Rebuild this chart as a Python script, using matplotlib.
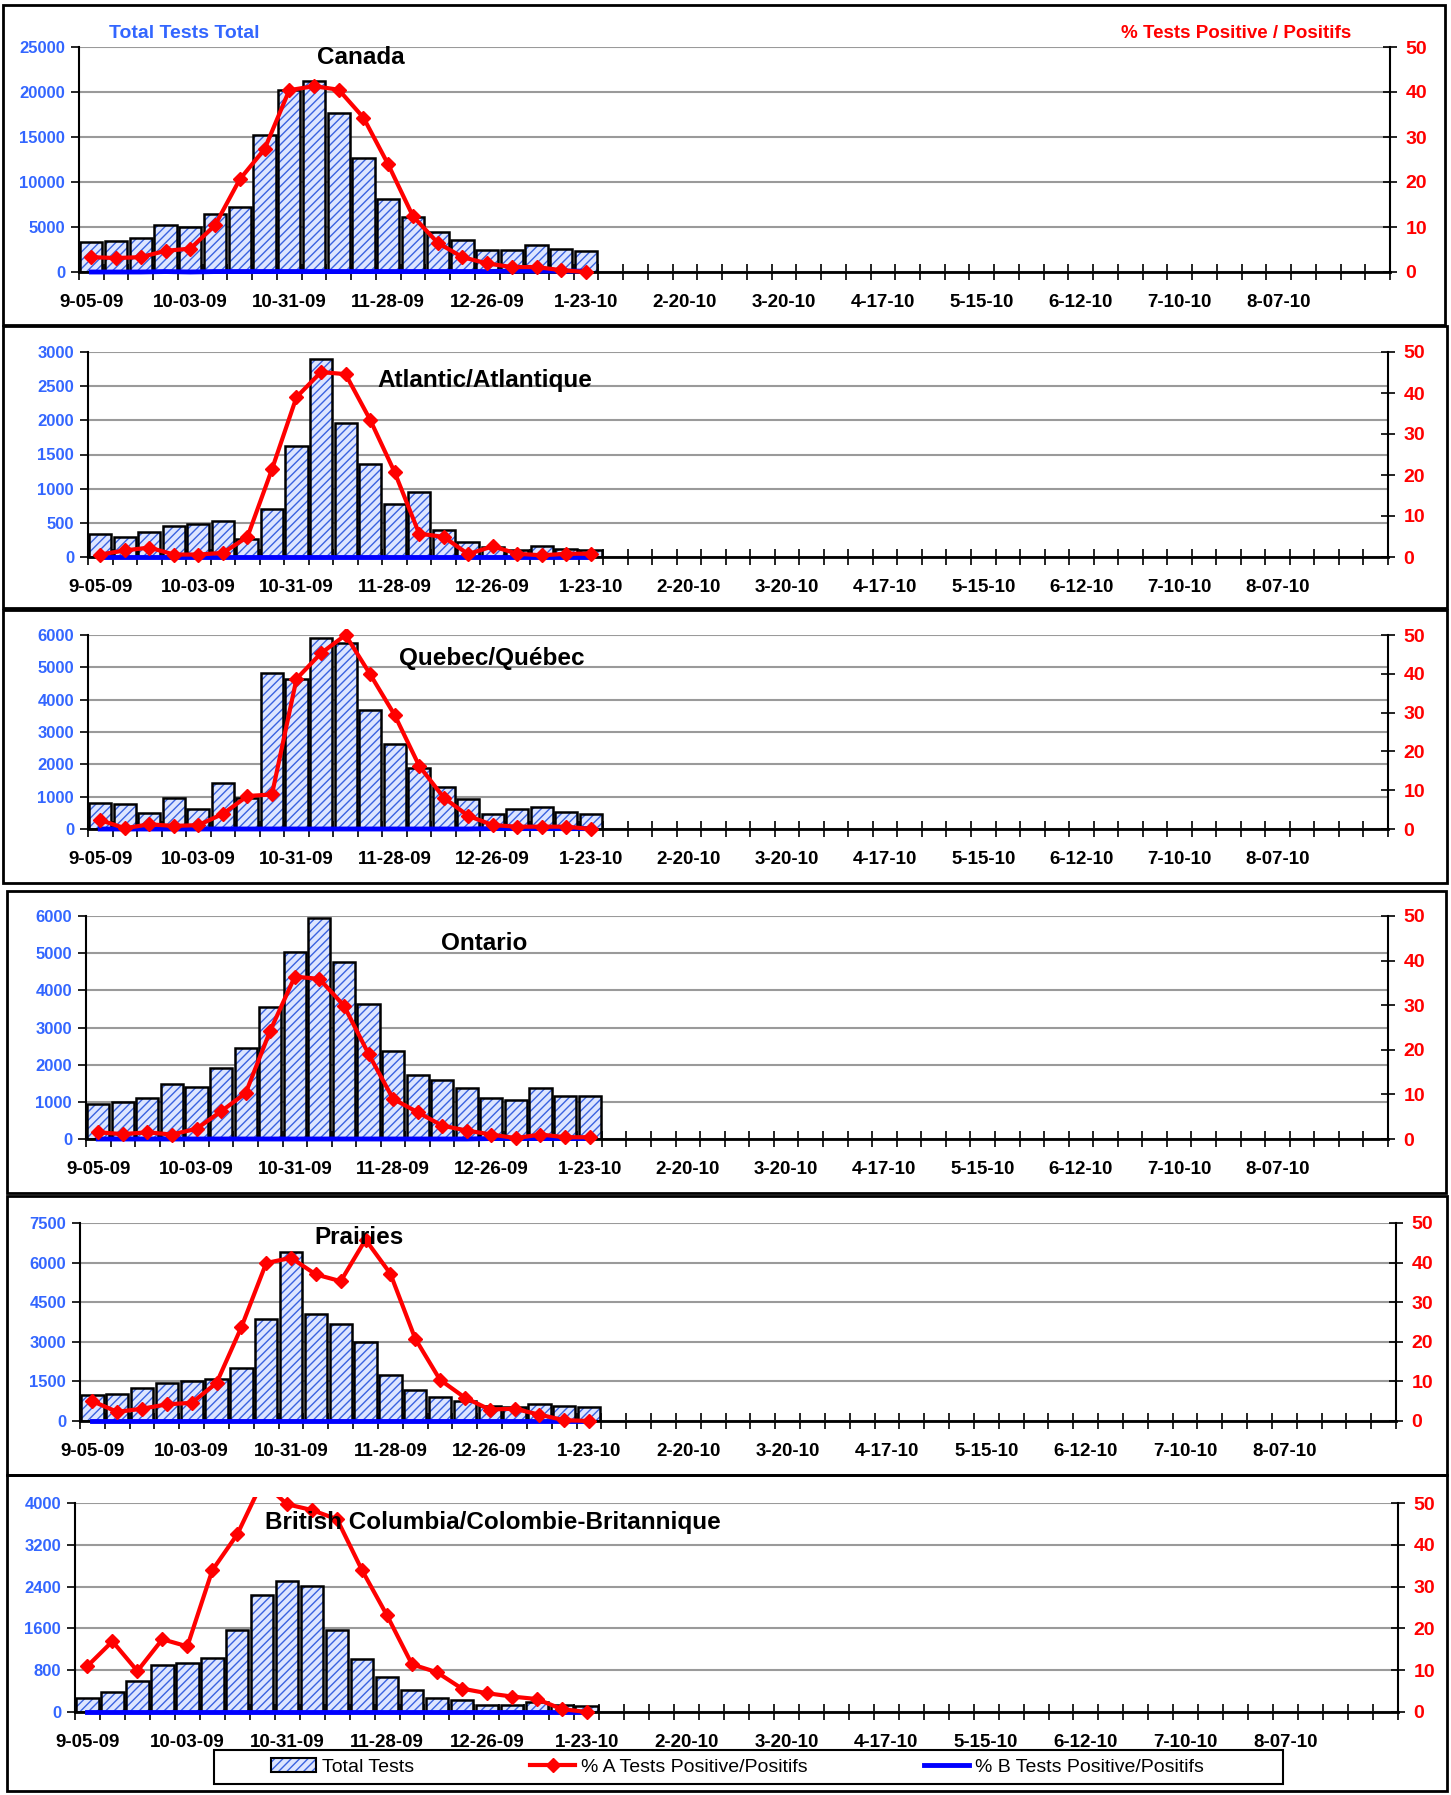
import matplotlib
matplotlib.use("Agg")
import numpy as np
import matplotlib.pyplot as plt
from matplotlib import font_manager
from matplotlib.patches import Rectangle, Patch
from matplotlib.lines import Line2D

# the chart text is a condensed Arial look; use the narrow face when present
installed = {f.name for f in font_manager.fontManager.ttflist}
if "Liberation Sans Narrow" in installed:
    plt.rcParams["font.family"] = ["Liberation Sans Narrow", "DejaVu Sans"]
    fs = 1.17
else:
    plt.rcParams["font.family"] = ["Liberation Sans", "DejaVu Sans"]
    fs = 1.0
plt.rcParams["font.weight"] = "bold"
plt.rcParams["hatch.linewidth"] = 1.0

W, H = 1451, 1795

# --- data -------------------------------------------------------------
n_weeks = 53
tick_labels = ["9-05-09", "10-03-09", "10-31-09", "11-28-09", "12-26-09", "1-23-10",
               "2-20-10", "3-20-10", "4-17-10", "5-15-10", "6-12-10", "7-10-10", "8-07-10"]

titles = ["Canada", "Atlantic/Atlantique", "Quebec/Québec", "Ontario", "Prairies",
          "British Columbia/Colombie-Britannique"]

canada_total = [3330, 3500, 3780, 5260, 5000, 6480, 7220, 15220, 20260, 21260, 17700,
                12700, 8150, 6110, 4440, 3560, 2400, 2400, 3000, 2520, 2330]
canada_a = [3.3, 3.1, 3.3, 4.7, 5.2, 10.4, 20.6, 27.3, 40.4, 41.3, 40.5, 34.3, 23.9,
            12.4, 6.5, 3.3, 1.9, 1.1, 1.1, 0.4, 0.0]
canada_b = [0.0, 0.0, 0.0, 0.1, 0.0, 0.1, 0.1, 0.1, 0.1, 0.1, 0.1, 0.1, 0.1, 0.1,
            0.1, 0.1, 0.1, 0.2, 0.2, 0.2, 0.2]

atl_total = [330, 290, 360, 450, 490, 525, 260, 705, 1620, 2900, 1955, 1360, 775, 945,
             390, 220, 140, 105, 155, 110, 100]
atl_a = [0.6, 1.6, 2.3, 0.6, 0.6, 1.0, 4.9, 21.4, 39.0, 45.1, 44.6, 33.5, 20.7, 5.7,
         4.9, 0.7, 2.6, 0.8, 0.4, 0.8, 0.8]
atl_b = [0.0, 0.0, 0.0, 0.0, 0.0, 0.0, 0.0, 0.0, 0.0, 0.0, 0.0, 0.0, 0.0, 0.0,
         0.0, 0.0, 0.0, 0.0, 0.0, 0.0, 0.0]

que_total = [794, 773, 485, 959, 629, 1412, 969, 4814, 4639, 5897, 5742, 3680, 2619,
             1876, 1309, 938, 454, 608, 670, 515, 464]
que_a = [2.3, 0.2, 1.2, 0.8, 1.0, 3.9, 8.5, 8.9, 38.7, 45.3, 50.0, 39.9, 29.4, 16.3,
         8.1, 3.4, 1.0, 0.6, 0.6, 0.6, 0.0]
que_b = [0.0, 0.0, 0.0, 0.0, 0.0, 0.0, 0.0, 0.0, 0.0, 0.0, 0.0, 0.0, 0.0, 0.0,
         0.0, 0.0, 0.1, 0.1, 0.1, 0.1, 0.1]

ont_total = [931, 985, 1092, 1468, 1388, 1898, 2435, 3563, 5031, 5953, 4763, 3635,
             2381, 1710, 1576, 1370, 1092, 1047, 1370, 1164, 1146]
ont_a = [1.5, 1.1, 1.5, 1.0, 2.3, 6.2, 10.3, 24.3, 36.4, 35.9, 29.9, 19.1, 9.0, 6.0,
         3.0, 1.9, 1.0, 0.2, 1.0, 0.4, 0.4]
ont_b = [0.0, 0.0, 0.0, 0.0, 0.0, 0.0, 0.0, 0.0, 0.0, 0.0, 0.0, 0.0, 0.0, 0.0,
         0.0, 0.0, 0.1, 0.1, 0.1, 0.1, 0.1]

pra_total = [985, 1035, 1237, 1452, 1503, 1604, 2020, 3876, 6389, 4040, 3687, 2980,
             1730, 1174, 896, 745, 556, 530, 644, 556, 530]
pra_a = [5.0, 2.3, 3.1, 4.2, 4.6, 9.6, 23.7, 39.9, 41.2, 37.0, 35.3, 45.8, 37.2, 20.8,
         10.4, 5.9, 2.9, 3.1, 1.6, 0.2, 0.0]
pra_b = [0.0, 0.0, 0.0, 0.0, 0.0, 0.0, 0.0, 0.0, 0.0, 0.0, 0.0, 0.0, 0.0, 0.0,
         0.0, 0.0, 0.0, 0.0, 0.0, 0.0, 0.0]

bc_total = [261, 376, 592, 892, 936, 1025, 1573, 2248, 2503, 2414, 1561, 1019, 669,
            414, 274, 236, 127, 127, 185, 140, 121]
bc_a = [11.0, 16.9, 9.8, 17.4, 15.7, 33.9, 42.5, 55.0, 49.7, 48.3, 46.1, 33.9, 23.1,
        11.4, 9.5, 5.6, 4.5, 3.7, 3.1, 0.7, 0.0]
bc_b = [0.0, 0.0, 0.0, 0.0, 0.0, 0.0, 0.0, 0.0, 0.0, 0.0, 0.0, 0.0, 0.0, 0.0,
        0.0, 0.0, 0.0, 0.0, 0.0, 0.0, 0.0]

totals = [canada_total, atl_total, que_total, ont_total, pra_total, bc_total]
pct_a = [canada_a, atl_a, que_a, ont_a, pra_a, bc_a]
pct_b = [canada_b, atl_b, que_b, ont_b, pra_b, bc_b]
left_max = [25000, 3000, 6000, 6000, 7500, 4000]
left_step = [5000, 500, 1000, 1000, 1500, 800]

# --- layout (pixels) ---------------------------------------------------
axes_px = [(79, 1390, 47, 272), (88, 1388, 352, 557), (88, 1388, 635, 829),
           (86, 1388, 916, 1139), (80, 1396, 1223, 1421), (75, 1398, 1503, 1712)]
frames_px = [(3, 1445, 5, 325), (3, 1447, 326, 608), (3, 1447, 610, 883),
             (7, 1446, 891, 1193), (7, 1447, 1196, 1475), (7, 1447, 1475, 1791)]
title_px = [(361, 57), (485, 380), (492, 659), (484, 944), (359, 1238), (493, 1523)]

BLUE_TXT = "#3366ff"
FILL = "#dde5ff"
HATCH = "#3a62e0"

fig = plt.figure(figsize=(W / 100, H / 100), dpi=100)


def px_axes(l, r, t, b):
    return fig.add_axes([l / W, 1 - b / H, (r - l) / W, (b - t) / H])


for i in range(6):
    l, r, t, b = axes_px[i]
    ax = px_axes(l, r, t, b)
    x = np.arange(len(totals[i]))

    ax.bar(x, totals[i], width=0.9, color=FILL, edgecolor=HATCH, hatch="////",
           linewidth=0, zorder=2)
    ax.bar(x, totals[i], width=0.9, color="none", edgecolor="black", linewidth=1.8,
           zorder=3)

    ax.set_xlim(-0.5, n_weeks - 0.5)
    ax.set_ylim(0, left_max[i])
    ax.set_yticks(np.arange(0, left_max[i] + 1, left_step[i]))
    ax.yaxis.grid(True, color="#9a9a9a", lw=1.5)
    ax.set_axisbelow(True)

    ax.set_xticks(range(0, 49, 4))
    ax.set_xticklabels(tick_labels, fontsize=13.5 * fs)
    ax.set_xticks(np.arange(-0.5, n_weeks), minor=True)
    ax.tick_params(axis="x", which="major", length=0, pad=16)
    ax.tick_params(axis="x", which="minor", direction="inout", length=12, width=1.2)
    ax.tick_params(axis="y", direction="out", length=6, width=1.2,
                   labelsize=12 * fs, labelcolor=BLUE_TXT, pad=4)
    for s in ["top", "right"]:
        ax.spines[s].set_visible(False)
    ax.spines["left"].set_linewidth(1.5)
    ax.spines["bottom"].set_linewidth(2)

    ax2 = ax.twinx()
    ax2.set_ylim(0, 50)
    ax2.set_yticks(range(0, 51, 10))
    ax2.tick_params(axis="y", direction="inout", length=10, width=1.2,
                    labelsize=14 * fs, labelcolor="red", pad=6)
    for s in ["top", "left", "bottom"]:
        ax2.spines[s].set_visible(False)
    ax2.spines["right"].set_linewidth(1.5)

    ax2.plot(x, pct_b[i], color="#0000ff", lw=3.5, clip_on=False, zorder=3)
    line, = ax2.plot(x, pct_a[i], color="red", lw=3, marker="D", ms=7, zorder=4)
    line.set_clip_path(Rectangle((-0.02, -0.1), 1.04, 1.13, transform=ax2.transAxes))

    fig.text(title_px[i][0] / W, 1 - title_px[i][1] / H, titles[i], ha="center",
             va="center", fontsize=17.5 * fs)

    fl, fr, ft, fb = frames_px[i]
    fig.add_artist(Rectangle((fl / W, 1 - fb / H), (fr - fl) / W, (fb - ft) / H,
                             transform=fig.transFigure, fill=False, ec="black", lw=2))

fig.text(109 / W, 1 - 34 / H, "Total Tests Total", color=BLUE_TXT, fontsize=14 * fs,
         va="center", ha="left")
fig.text(1351 / W, 1 - 34 / H, "% Tests Positive / Positifs", color="red",
         fontsize=13.5 * fs, va="center", ha="right")

# legend
handles = [
    (Patch(facecolor=FILL, edgecolor=HATCH, hatch="////", lw=0),
     Patch(facecolor="none", edgecolor="black", lw=1.5)),
    Line2D([], [], color="red", lw=3, marker="D", ms=7),
    Line2D([], [], color="#0000ff", lw=3.5),
]
labels = ["Total Tests", "% A Tests Positive/Positifs", "% B Tests Positive/Positifs"]
lg = fig.legend(handles, labels, loc="center left",
                bbox_to_anchor=(271 / W, 1 - 1767 / H), ncol=3, frameon=False,
                borderpad=0, borderaxespad=0, handlelength=2.3 / fs,
                handletextpad=0.3, columnspacing=6 / fs,
                prop={"size": 14 * fs, "weight": "normal"})
fig.add_artist(Rectangle((214 / W, 1 - 1784 / H), (1283 - 214) / W, 34 / H,
                         transform=fig.transFigure, fill=False, ec="black", lw=1.5))

fig.savefig("out.png", dpi=100)
